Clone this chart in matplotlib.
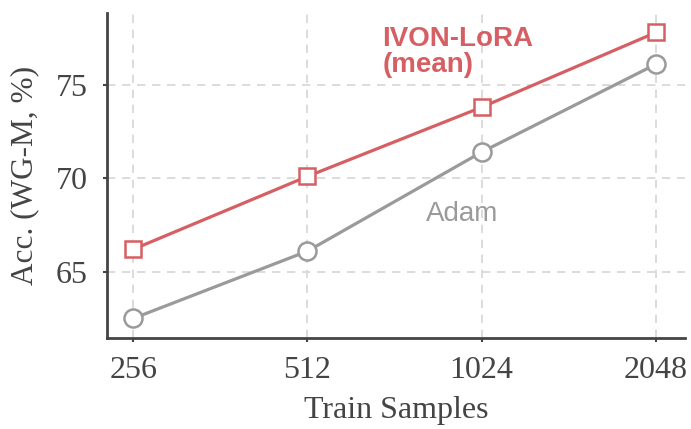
import numpy as np
import matplotlib
matplotlib.use("Agg")
import matplotlib.pyplot as plt

# accuracy on WG-M vs number of training samples
train_samples = [256, 512, 1024, 2048]
ivon_acc = [66.2, 70.1, 73.8, 77.8]
adam_acc = [62.5, 66.1, 71.4, 76.1]

red = "#d65f63"
gray = "#9a9a9a"

plt.rcParams["font.family"] = ["Liberation Serif", "DejaVu Serif"]

fig, ax = plt.subplots(figsize=(6.91, 4.29), dpi=100)
x = np.arange(len(train_samples))

ax.plot(x, adam_acc, color=gray, lw=2.3, marker="o", ms=13,
        mfc="white", mec=gray, mew=1.8, zorder=3)
ax.plot(x, ivon_acc, color=red, lw=2.3, marker="s", ms=12,
        mfc="white", mec=red, mew=1.8, zorder=4)

ax.text(1.43, 75.7, "IVON-LoRA\n(mean)", color=red, fontsize=20,
        fontweight="bold", family="Liberation Sans", linespacing=1.0,
        va="baseline")
ax.text(1.68, 67.7, "Adam", color=gray, fontsize=20,
        family="Liberation Sans", va="baseline")

ax.set_xticks(x)
ax.set_xticklabels([str(s) for s in train_samples])
ax.set_yticks([65, 70, 75])
ax.set_xlim(-0.15, 3.17)
ax.set_ylim(61.45, 78.85)
ax.tick_params(labelsize=23, length=3, width=1.5, colors="#444444")
ax.tick_params(axis="x", pad=10)
ax.tick_params(axis="y", pad=11)
ax.set_xlabel("Train Samples", fontsize=23, color="#444444", labelpad=8)
ax.set_ylabel("Acc. (WG-M, %)", fontsize=22.5, color="#444444", labelpad=12)

ax.grid(True, ls=(0, (5, 4)), color="#d5d5d5", lw=1.2)
for side in ("top", "right"):
    ax.spines[side].set_visible(False)
for side in ("left", "bottom"):
    ax.spines[side].set_linewidth(2)
    ax.spines[side].set_color("#444444")

fig.subplots_adjust(left=0.155, right=0.992, top=0.97, bottom=0.212)
fig.savefig("out.png", dpi=100)
